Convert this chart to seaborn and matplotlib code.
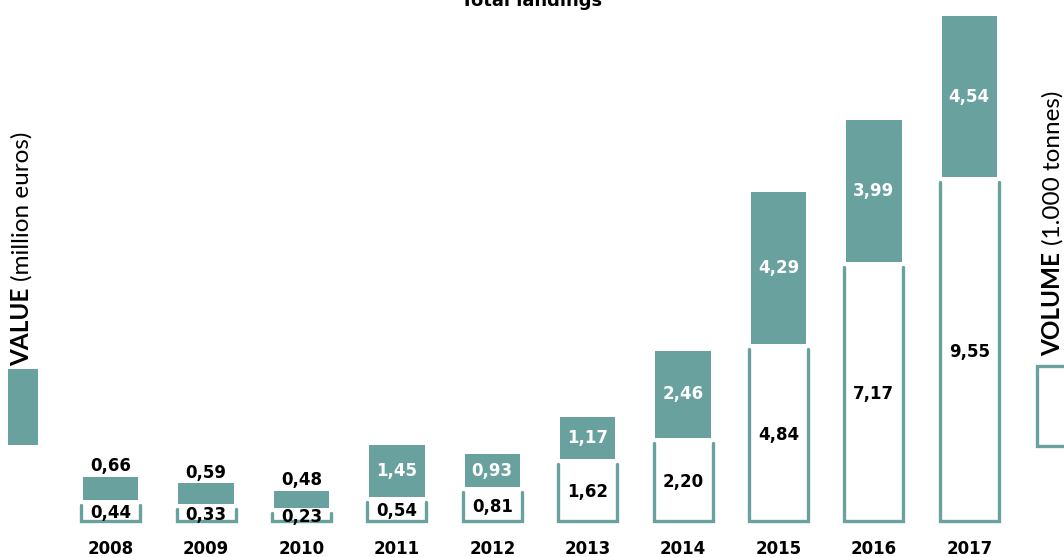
import numpy as np
import pandas as pd
import matplotlib.pyplot as plt
from matplotlib.patches import Rectangle
import seaborn as sns

# data
years = ['2008', '2009', '2010', '2011', '2012', '2013', '2014', '2015', '2016', '2017']
volume = [0.44, 0.33, 0.23, 0.54, 0.81, 1.62, 2.20, 4.84, 7.17, 9.55]   # 1.000 tonnes
value = [0.66, 0.59, 0.48, 1.45, 0.93, 1.17, 2.46, 4.29, 3.99, 4.54]    # million euros

teal = '#68a19e'
gap = 0.14

sns.set_theme(style='white')
plt.rcParams['font.family'] = ['DejaVu Sans']
plt.rcParams['text.color'] = 'black'
plt.rcParams['xtick.color'] = 'black'

fig = plt.figure(figsize=(10.64, 5.57), dpi=100)
W, H = 1064, 557
ax = fig.add_axes([63 / W, 36 / H, (1017 - 63) / W, 521 / H])

df = pd.DataFrame({'year': years, 'volume': volume, 'value': value})

# volume bars: white with an open-topped teal outline
sns.barplot(data=df, x='year', y='volume', color='white', saturation=1,
            width=0.62, linewidth=0, ax=ax)
centers = []
for p, v in zip(ax.patches, volume):
    x0, w = p.get_x(), p.get_width()
    centers.append(x0 + w / 2)
    ax.plot([x0, x0, x0 + w, x0 + w], [v, 0, 0, v], color=teal, lw=2.4,
            solid_joinstyle='miter', clip_on=False)
    ax.text(x0 + w / 2, v / 2, f'{v:.2f}'.replace('.', ','), ha='center', va='center',
            fontsize=12, fontweight='bold', color='black')

# value bars stacked above with a small gap
bottoms = np.array(volume) + gap
ax.bar(centers, value, bottom=bottoms, width=0.58, color=teal, linewidth=0)
for c, b, v in zip(centers, bottoms, value):
    lab = f'{v:.2f}'.replace('.', ',')
    if v >= 0.9:
        ax.text(c, b + v / 2, lab, ha='center', va='center', fontsize=12,
                fontweight='bold', color='white')
    else:
        ax.text(c, b + v + 0.05, lab, ha='center', va='bottom', fontsize=12,
                fontweight='bold', color='black')

ax.set_xlim(-0.5, len(years) - 0.5)
ax.set_ylim(0, 14.68)
ax.set_xlabel('')
ax.set_ylabel('')
ax.set_yticks([])
ax.tick_params(axis='x', length=0, pad=14)
for t in ax.get_xticklabels():
    t.set_fontweight('bold')
    t.set_fontsize(12)
sns.despine(ax=ax, left=True, bottom=True)

# title (partly cut off at the top, like the source)
fig.text(0.5, 1 - 6 / H, 'Total landings', ha='center', va='baseline',
         fontsize=13, fontweight='bold')

renderer = fig.canvas.get_renderer()


def key_label(x, y_bottom, bold_part, rest, size):
    # bold word then regular text, both rotated, stacked upward
    t1 = fig.text(x, y_bottom, bold_part, rotation=90, ha='center', va='bottom',
                  family=['Lato', 'DejaVu Sans'], fontweight='bold', fontsize=size)
    top = t1.get_window_extent(renderer).y1
    fig.text(x, (top + 7) / H, rest, rotation=90, ha='center', va='bottom',
             family=['Lato', 'DejaVu Sans'], fontsize=size)


# left key: value
fig.patches.append(Rectangle((8 / W, (H - 445) / H), 30 / W, 76 / H,
                             transform=fig.transFigure, color=teal, lw=0))
key_label(22 / W, 1 - 366 / H, 'VALUE', '(million euros)', 17.5)

# right key: volume
fig.patches.append(Rectangle((1037 / W, (H - 446) / H), 40 / W, 80 / H,
                             transform=fig.transFigure, facecolor='white',
                             edgecolor=teal, lw=2.4))
key_label(1053 / W, 1 - 356 / H, 'VOLUME', '(1.000 tonnes)', 17.5)

fig.savefig('out.png', dpi=100)
